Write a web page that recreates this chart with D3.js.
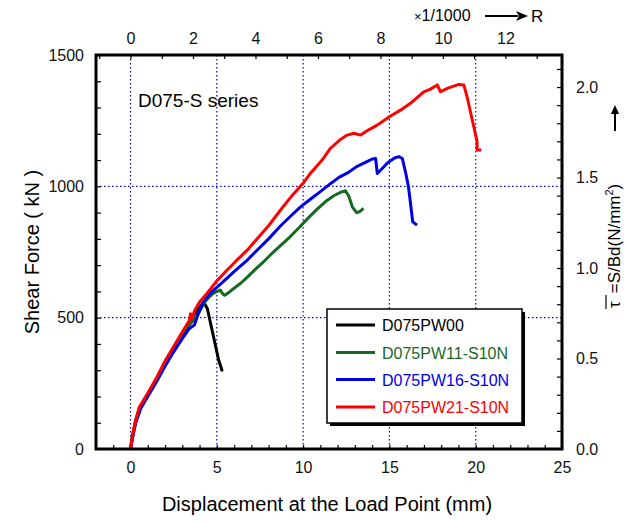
<!DOCTYPE html>
<html lang="en">
<head>
    <meta charset="UTF-8">
    <title>D075-S series</title>
    <script src="https://d3js.org/d3.v7.min.js"></script>
    <style>
        body { margin: 0; background: #fff; }
        svg { font-family: "Liberation Sans", Arial, sans-serif; }
        .grid { stroke: #0000dd; stroke-width: 1.2; stroke-dasharray: 1.5,2.5; }
        .curve { fill: none; stroke-width: 3; stroke-linejoin: round; }
    </style>
</head>
<body>
    <div id="chart"></div>
    <script>
        // Displacement (mm), shear force (kN)
        const seriesNames = ["D075PW00", "D075PW11-S10N", "D075PW16-S10N", "D075PW21-S10N"];
        const seriesColors = ["#000000", "#17691f", "#0000e6", "#ff0000"];

        const pw00 = [[0,0],[0.1,45],[0.3,110],[0.55,160],[1.0,210],[1.5,265],[2.0,330],[2.5,385],
            [3.0,440],[3.5,495],[4.0,540],[4.25,558],[4.45,535],[4.8,430],[5.1,340],[5.3,300],[5.25,306]];

        const pw11 = [[0,0],[0.1,42],[0.3,105],[0.55,158],[1.0,208],[1.5,262],[2.0,325],[2.5,378],
            [3.0,432],[3.5,480],[3.8,502],[4.0,525],[4.3,560],[4.55,578],[4.75,590],[4.95,598],
            [5.2,605],[5.35,590],[5.45,585],[5.7,596],[6.0,612],[6.4,632],[6.8,656],[7.2,682],
            [7.7,712],[8.2,745],[8.7,775],[9.2,805],[9.8,845],[10.3,880],[10.8,912],[11.3,942],
            [11.8,965],[12.2,978],[12.45,983],[12.65,962],[12.85,922],[13.1,900],[13.3,905],[13.5,916]];

        const pw16 = [[0,0],[0.1,35],[0.3,100],[0.6,155],[1.0,200],[1.5,255],[2.0,315],[2.5,370],
            [3.0,420],[3.4,458],[3.57,466],[3.7,472],[3.9,510],[4.2,558],[4.6,592],[5.0,615],
            [5.5,645],[6.0,675],[6.7,715],[7.3,755],[8.0,800],[8.7,850],[9.3,888],[9.85,922],
            [10.4,950],[11.0,980],[11.6,1011],[12.1,1035],[12.55,1050],[13.1,1075],[13.7,1094],
            [14.0,1104],[14.2,1106],[14.3,1049],[14.5,1062],[14.9,1090],[15.3,1108],[15.55,1113],
            [15.75,1106],[15.95,1049],[16.1,1000],[16.2,948],[16.35,865],[16.45,860],[16.6,852]];

        const pw21 = [[0,0],[0.1,45],[0.3,110],[0.5,158],[1.0,212],[1.5,270],[2.0,335],[2.5,390],
            [3.0,445],[3.4,488],[3.48,515],[3.55,495],[3.7,525],[4.0,560],[4.44,593],[5.0,640],
            [5.5,675],[6.1,715],[6.76,757],[7.4,805],[8.0,850],[8.69,910],[9.3,960],[10.04,1015],
            [10.43,1050],[11.1,1100],[11.59,1145],[12.1,1175],[12.55,1195],[12.94,1202],[13.33,1195],
            [13.8,1215],[14.29,1233],[15.0,1265],[15.64,1290],[16.22,1316],[16.99,1360],[17.38,1370],
            [17.77,1386],[17.96,1360],[18.35,1373],[19.02,1388],[19.31,1386],[19.5,1341],[19.89,1227],
            [20.08,1170],[20.08,1138],[20.32,1138]];

        const allSeries = [pw00, pw11, pw16, pw21];

        const xTicks = d3.range(-2, 26, 1);
        const xLabels = [0, 5, 10, 15, 20, 25];
        const yTicks = d3.range(0, 1501, 100);
        const yLabels = [0, 500, 1000, 1500];
        const rTicks = d3.range(-1, 14, 1);
        const rLabels = [0, 2, 4, 6, 8, 10, 12];
        const tauTicks = d3.range(0, 2.11, 0.1).map(v => +v.toFixed(1));
        const tauLabels = [0, 0.5, 1.0, 1.5, 2.0];
        const xGrid = [0, 5, 10, 15, 20];
        const yGrid = [500, 1000];

        const mmPerR = 1.81;      // displacement per 1/1000 rotation
        const kNPerTau = 689;     // Bd / 1000

        const W = 627, H = 523;
        const m = {left: 96, top: 55, right: 562, bottom: 449};

        const svg = d3.select('#chart').append('svg')
            .attr('width', W).attr('height', H);

        const x = d3.scaleLinear().domain([-2, 25]).range([m.left, m.right]);
        const y = d3.scaleLinear().domain([0, 1500]).range([m.bottom, m.top]);
        const xr = d3.scaleLinear().domain([-2 / mmPerR, 25 / mmPerR]).range([m.left, m.right]);
        const yt = d3.scaleLinear().domain([0, 1500 / kNPerTau]).range([m.bottom, m.top]);

        // grid
        svg.append('g').selectAll('line.gx').data(xGrid).join('line')
            .attr('class', 'grid')
            .attr('x1', d => x(d)).attr('x2', d => x(d))
            .attr('y1', m.top).attr('y2', m.bottom);
        svg.append('g').selectAll('line.gy').data(yGrid).join('line')
            .attr('class', 'grid')
            .attr('x1', m.left).attr('x2', m.right)
            .attr('y1', d => y(d)).attr('y2', d => y(d));

        // axes
        const fmt = (labels, f) => d => labels.some(l => Math.abs(l - d) < 1e-6) ? f(d) : '';

        const axBottom = svg.append('g').attr('transform', `translate(0,${m.bottom})`)
            .call(d3.axisBottom(x).tickValues(xTicks).tickSize(-4).tickPadding(13)
                .tickFormat(fmt(xLabels, d3.format('d'))));
        const axLeft = svg.append('g').attr('transform', `translate(${m.left},0)`)
            .call(d3.axisLeft(y).tickValues(yTicks).tickSize(-5).tickPadding(12)
                .tickFormat(fmt(yLabels, d3.format('d'))));
        const axTop = svg.append('g').attr('transform', `translate(0,${m.top})`)
            .call(d3.axisTop(xr).tickValues(rTicks).tickSize(-4).tickPadding(11)
                .tickFormat(fmt(rLabels, d3.format('d'))));
        const axRight = svg.append('g').attr('transform', `translate(${m.right},0)`)
            .call(d3.axisRight(yt).tickValues(tauTicks).tickSize(-5).tickPadding(14)
                .tickFormat(fmt(tauLabels, d3.format('.1f'))));

        [axBottom, axLeft, axTop, axRight].forEach(g => {
            g.select('.domain').remove();
            g.selectAll('.tick line').attr('stroke', '#000').attr('stroke-width', 1.2);
            g.selectAll('.tick text')
                .attr('font-family', '"Liberation Sans", Arial, sans-serif')
                .attr('font-size', 16).attr('fill', '#111');
        });

        // curves
        const line = d3.line().x(d => x(d[0])).y(d => y(d[1]));
        svg.append('g').selectAll('path').data(allSeries).join('path')
            .attr('class', 'curve')
            .attr('stroke', (d, i) => seriesColors[i])
            .attr('d', line);

        // frame
        svg.append('rect')
            .attr('x', m.left).attr('y', m.top)
            .attr('width', m.right - m.left).attr('height', m.bottom - m.top)
            .attr('fill', 'none').attr('stroke', '#000').attr('stroke-width', 3);

        // series label
        svg.append('text').attr('x', 138).attr('y', 107)
            .attr('font-size', 19).attr('fill', '#000').text('D075-S series');

        // legend
        const lg = {x: 327, y: 309, w: 195, h: 114};
        svg.append('rect').attr('x', lg.x + 3).attr('y', lg.y + 3)
            .attr('width', lg.w).attr('height', lg.h).attr('fill', '#000');
        svg.append('rect').attr('x', lg.x).attr('y', lg.y)
            .attr('width', lg.w).attr('height', lg.h)
            .attr('fill', '#fff').attr('stroke', '#000').attr('stroke-width', 1.5);
        const rowY = [325, 352.5, 379.5, 407];
        const legendRows = svg.append('g').selectAll('g').data(seriesNames).join('g')
            .attr('transform', (d, i) => `translate(0,${rowY[i]})`);
        legendRows.append('line')
            .attr('x1', 336).attr('x2', 375).attr('y1', 0).attr('y2', 0)
            .attr('stroke', (d, i) => seriesColors[i]).attr('stroke-width', 3);
        legendRows.append('text')
            .attr('x', 382).attr('y', 6)
            .attr('font-size', 16)
            .attr('fill', (d, i) => seriesColors[i])
            .text(d => d);

        // axis titles
        svg.append('text')
            .attr('transform', `translate(39,${(m.top + m.bottom) / 2}) rotate(-90)`)
            .attr('text-anchor', 'middle').attr('font-size', 20)
            .text('Shear Force ( kN )');
        svg.append('text')
            .attr('x', 327).attr('y', 511)
            .attr('text-anchor', 'middle').attr('font-size', 20)
            .text('Displacement at the Load Point (mm)');

        // right title: tau-bar = S/Bd
        const rt = svg.append('g').attr('transform', 'translate(620,308) rotate(-90)');
        const rtText = rt.append('text').attr('font-size', 17);
        rtText.append('tspan').text('τ');
        rtText.append('tspan').attr('dx', 8).text('=S/Bd(N/mm');
        rtText.append('tspan').attr('font-size', 11).attr('dy', -7).text('2');
        rtText.append('tspan').attr('dy', 7).text(')');
        rt.append('line').attr('x1', -1).attr('x2', 13).attr('y1', -14).attr('y2', -14)
            .attr('stroke', '#000').attr('stroke-width', 1.2);

        // arrows
        svg.append('line').attr('x1', 615).attr('x2', 615).attr('y1', 131).attr('y2', 112)
            .attr('stroke', '#000').attr('stroke-width', 2);
        svg.append('path').attr('d', 'M615,105 L611,114 L619,114 Z').attr('fill', '#000');

        const topText = svg.append('text').attr('x', 414).attr('y', 21).attr('font-size', 16);
        topText.append('tspan').attr('font-size', 13).text('×');
        topText.append('tspan').text('1/1000');
        svg.append('line').attr('x1', 485).attr('x2', 518).attr('y1', 16).attr('y2', 16)
            .attr('stroke', '#000').attr('stroke-width', 2);
        svg.append('path').attr('d', 'M528,16 L516,11 L519,16 L516,21 Z').attr('fill', '#000');
        svg.append('text').attr('x', 531).attr('y', 22).attr('font-size', 17).text('R');
    </script>
</body>
</html>
